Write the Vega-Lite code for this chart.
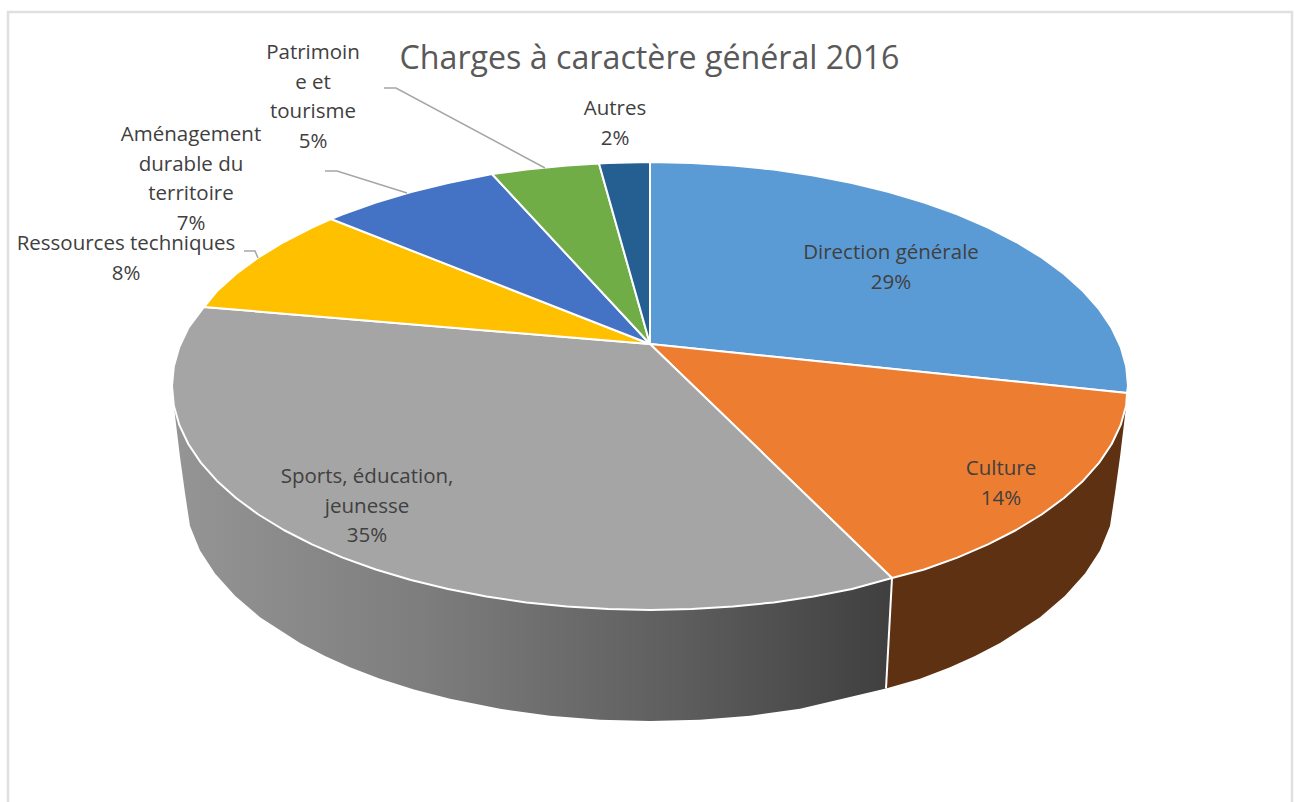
{"$schema":"https://vega.github.io/schema/vega-lite/v6.json","width":1297,"height":802,"padding":0,"autosize":{"type":"none"},"background":"white","view":{"stroke":null},
"title":{"text":"Charges à caractère général 2016","font":"Open Sans","fontSize":32.2,"fontWeight":"normal","color":"#595959","anchor":"middle","baseline":"middle","offset":-91,"dx":1},
"datasets":{
"frame":[{"n":1,"x":8,"y":802},{"n":2,"x":8,"y":12},{"n":3,"x":1292,"y":12},{"n":4,"x":1292,"y":802}],
"wallGray":[{"n":1,"x":173.8,"y":405.5},{"n":2,"x":179.3,"y":424.9},{"n":3,"x":188.3,"y":444},{"n":4,"x":200.8,"y":462.6},{"n":5,"x":216.8,"y":480.7},{"n":6,"x":236,"y":498},{"n":7,"x":258.4,"y":514.5},{"n":8,"x":283.8,"y":530},{"n":9,"x":312,"y":544.4},{"n":10,"x":342.7,"y":557.6},{"n":11,"x":375.8,"y":569.5},{"n":12,"x":411,"y":580},{"n":13,"x":448,"y":589},{"n":14,"x":486.5,"y":596.5},{"n":15,"x":526.3,"y":602.4},{"n":16,"x":567,"y":606.6},{"n":17,"x":608.3,"y":609.1},{"n":18,"x":650,"y":610},{"n":19,"x":691.7,"y":609.1},{"n":20,"x":733,"y":606.6},{"n":21,"x":773.7,"y":602.4},{"n":22,"x":813.5,"y":596.5},{"n":23,"x":852,"y":589},{"n":24,"x":892,"y":578},{"n":25,"x":886,"y":688.5},{"n":26,"x":800,"y":708.8},{"n":27,"x":750,"y":715.7},{"n":28,"x":700,"y":719.7},{"n":29,"x":650,"y":721},{"n":30,"x":600,"y":719.7},{"n":31,"x":550,"y":715.7},{"n":32,"x":500,"y":708.8},{"n":33,"x":450,"y":698.8},{"n":34,"x":414,"y":689.4},{"n":35,"x":380,"y":678.7},{"n":36,"x":350,"y":667.2},{"n":37,"x":325,"y":656},{"n":38,"x":300,"y":643},{"n":39,"x":260,"y":617.2},{"n":40,"x":235,"y":595.8},{"n":41,"x":215,"y":573.6},{"n":42,"x":200,"y":550.5},{"n":43,"x":190,"y":526},{"n":44,"x":185,"y":493},{"n":45,"x":180,"y":457},{"n":46,"x":173.8,"y":405.5}],
"wallBrown":[{"n":1,"x":1126.2,"y":405.5},{"n":2,"x":1120.7,"y":424.9},{"n":3,"x":1111.7,"y":444},{"n":4,"x":1099.2,"y":462.6},{"n":5,"x":1083.2,"y":480.7},{"n":6,"x":1064,"y":498},{"n":7,"x":1041.6,"y":514.5},{"n":8,"x":1016.2,"y":530},{"n":9,"x":988,"y":544.4},{"n":10,"x":957.3,"y":557.6},{"n":11,"x":924.2,"y":569.5},{"n":12,"x":892,"y":578},{"n":13,"x":886,"y":688.5},{"n":14,"x":920,"y":678.7},{"n":15,"x":950,"y":667.2},{"n":16,"x":975,"y":656},{"n":17,"x":1000,"y":643},{"n":18,"x":1040,"y":617.2},{"n":19,"x":1065,"y":595.8},{"n":20,"x":1085,"y":573.6},{"n":21,"x":1100,"y":550.5},{"n":22,"x":1110,"y":526},{"n":23,"x":1115,"y":493},{"n":24,"x":1120,"y":457},{"n":25,"x":1126.2,"y":405.5}],
"edge":[{"n":1,"x":892,"y":578},{"n":2,"x":886,"y":688.5}],
"slices":[
{"part":"Direction générale","n":1,"x":650,"y":344},{"part":"Direction générale","n":2,"x":650,"y":162},{"part":"Direction générale","n":3,"x":691.7,"y":162.9},{"part":"Direction générale","n":4,"x":733,"y":165.4},{"part":"Direction générale","n":5,"x":773.7,"y":169.6},{"part":"Direction générale","n":6,"x":813.5,"y":175.5},{"part":"Direction générale","n":7,"x":852,"y":183},{"part":"Direction générale","n":8,"x":889,"y":192},{"part":"Direction générale","n":9,"x":924.2,"y":202.5},{"part":"Direction générale","n":10,"x":957.3,"y":214.4},{"part":"Direction générale","n":11,"x":988,"y":227.6},{"part":"Direction générale","n":12,"x":1016.2,"y":242},{"part":"Direction générale","n":13,"x":1041.6,"y":257.5},{"part":"Direction générale","n":14,"x":1064,"y":274},{"part":"Direction générale","n":15,"x":1083.2,"y":291.3},{"part":"Direction générale","n":16,"x":1099.2,"y":309.4},{"part":"Direction générale","n":17,"x":1111.7,"y":328},{"part":"Direction générale","n":18,"x":1120.7,"y":347.1},{"part":"Direction générale","n":19,"x":1126.2,"y":366.5},{"part":"Direction générale","n":20,"x":1128,"y":386},{"part":"Direction générale","n":21,"x":1127,"y":393},{"part":"Direction générale","n":22,"x":650,"y":344},
{"part":"Culture","n":1,"x":650,"y":344},{"part":"Culture","n":2,"x":1127,"y":393},{"part":"Culture","n":3,"x":1126.2,"y":405.5},{"part":"Culture","n":4,"x":1120.7,"y":424.9},{"part":"Culture","n":5,"x":1111.7,"y":444},{"part":"Culture","n":6,"x":1099.2,"y":462.6},{"part":"Culture","n":7,"x":1083.2,"y":480.7},{"part":"Culture","n":8,"x":1064,"y":498},{"part":"Culture","n":9,"x":1041.6,"y":514.5},{"part":"Culture","n":10,"x":1016.2,"y":530},{"part":"Culture","n":11,"x":988,"y":544.4},{"part":"Culture","n":12,"x":957.3,"y":557.6},{"part":"Culture","n":13,"x":924.2,"y":569.5},{"part":"Culture","n":14,"x":892,"y":578},{"part":"Culture","n":15,"x":650,"y":344},
{"part":"Sports, éducation, jeunesse","n":1,"x":650,"y":344},{"part":"Sports, éducation, jeunesse","n":2,"x":892,"y":578},{"part":"Sports, éducation, jeunesse","n":3,"x":852,"y":589},{"part":"Sports, éducation, jeunesse","n":4,"x":813.5,"y":596.5},{"part":"Sports, éducation, jeunesse","n":5,"x":773.7,"y":602.4},{"part":"Sports, éducation, jeunesse","n":6,"x":733,"y":606.6},{"part":"Sports, éducation, jeunesse","n":7,"x":691.7,"y":609.1},{"part":"Sports, éducation, jeunesse","n":8,"x":650,"y":610},{"part":"Sports, éducation, jeunesse","n":9,"x":608.3,"y":609.1},{"part":"Sports, éducation, jeunesse","n":10,"x":567,"y":606.6},{"part":"Sports, éducation, jeunesse","n":11,"x":526.3,"y":602.4},{"part":"Sports, éducation, jeunesse","n":12,"x":486.5,"y":596.5},{"part":"Sports, éducation, jeunesse","n":13,"x":448,"y":589},{"part":"Sports, éducation, jeunesse","n":14,"x":411,"y":580},{"part":"Sports, éducation, jeunesse","n":15,"x":375.8,"y":569.5},{"part":"Sports, éducation, jeunesse","n":16,"x":342.7,"y":557.6},{"part":"Sports, éducation, jeunesse","n":17,"x":312,"y":544.4},{"part":"Sports, éducation, jeunesse","n":18,"x":283.8,"y":530},{"part":"Sports, éducation, jeunesse","n":19,"x":258.4,"y":514.5},{"part":"Sports, éducation, jeunesse","n":20,"x":236,"y":498},{"part":"Sports, éducation, jeunesse","n":21,"x":216.8,"y":480.7},{"part":"Sports, éducation, jeunesse","n":22,"x":200.8,"y":462.6},{"part":"Sports, éducation, jeunesse","n":23,"x":188.3,"y":444},{"part":"Sports, éducation, jeunesse","n":24,"x":179.3,"y":424.9},{"part":"Sports, éducation, jeunesse","n":25,"x":173.8,"y":405.5},{"part":"Sports, éducation, jeunesse","n":26,"x":172,"y":386},{"part":"Sports, éducation, jeunesse","n":27,"x":173.8,"y":366.5},{"part":"Sports, éducation, jeunesse","n":28,"x":179.3,"y":347.1},{"part":"Sports, éducation, jeunesse","n":29,"x":188.3,"y":328},{"part":"Sports, éducation, jeunesse","n":30,"x":204,"y":307},{"part":"Sports, éducation, jeunesse","n":31,"x":650,"y":344},
{"part":"Ressources techniques","n":1,"x":650,"y":344},{"part":"Ressources techniques","n":2,"x":204,"y":307},{"part":"Ressources techniques","n":3,"x":216.8,"y":291.3},{"part":"Ressources techniques","n":4,"x":236,"y":274},{"part":"Ressources techniques","n":5,"x":258.4,"y":257.5},{"part":"Ressources techniques","n":6,"x":283.8,"y":242},{"part":"Ressources techniques","n":7,"x":312,"y":227.6},{"part":"Ressources techniques","n":8,"x":331,"y":219},{"part":"Ressources techniques","n":9,"x":650,"y":344},
{"part":"Aménagement durable du territoire","n":1,"x":650,"y":344},{"part":"Aménagement durable du territoire","n":2,"x":331,"y":219},{"part":"Aménagement durable du territoire","n":3,"x":342.7,"y":214.4},{"part":"Aménagement durable du territoire","n":4,"x":375.8,"y":202.5},{"part":"Aménagement durable du territoire","n":5,"x":411,"y":192},{"part":"Aménagement durable du territoire","n":6,"x":448,"y":183},{"part":"Aménagement durable du territoire","n":7,"x":492,"y":174},{"part":"Aménagement durable du territoire","n":8,"x":650,"y":344},
{"part":"Patrimoine et tourisme","n":1,"x":650,"y":344},{"part":"Patrimoine et tourisme","n":2,"x":492,"y":174},{"part":"Patrimoine et tourisme","n":3,"x":526.3,"y":169.6},{"part":"Patrimoine et tourisme","n":4,"x":567,"y":165.4},{"part":"Patrimoine et tourisme","n":5,"x":599,"y":163.5},{"part":"Patrimoine et tourisme","n":6,"x":650,"y":344},
{"part":"Autres","n":1,"x":650,"y":344},{"part":"Autres","n":2,"x":599,"y":163.5},{"part":"Autres","n":3,"x":608.3,"y":162.9},{"part":"Autres","n":4,"x":650,"y":162},{"part":"Autres","n":5,"x":650,"y":344}],
"leaders":[
{"part":"Patrimoine et tourisme","n":1,"x":384,"y":88},{"part":"Patrimoine et tourisme","n":2,"x":396,"y":88},{"part":"Patrimoine et tourisme","n":3,"x":545,"y":168},
{"part":"Aménagement durable du territoire","n":1,"x":325,"y":171},{"part":"Aménagement durable du territoire","n":2,"x":337,"y":171},{"part":"Aménagement durable du territoire","n":3,"x":407,"y":193},
{"part":"Ressources techniques","n":1,"x":244,"y":251},{"part":"Ressources techniques","n":2,"x":255,"y":251},{"part":"Ressources techniques","n":3,"x":258,"y":258}],
"labels":[
{"label":"Direction générale\n29%","x":891,"y":253},
{"label":"Culture\n14%","x":1001,"y":469},
{"label":"Sports, éducation,\njeunesse\n35%","x":367,"y":477},
{"label":"Ressources techniques\n8%","x":126,"y":244},
{"label":"Aménagement\ndurable du\nterritoire\n7%","x":191,"y":135},
{"label":"Patrimoin\ne et\ntourisme\n5%","x":313,"y":53},
{"label":"Autres\n2%","x":615,"y":109}]
},
"encoding":{
"x":{"field":"x","type":"quantitative","scale":{"domain":[0,1297]},"axis":null},
"y":{"field":"y","type":"quantitative","scale":{"domain":[802,0]},"axis":null}
},
"layer":[
{"data":{"name":"frame"},"mark":{"type":"line","stroke":"#e0e0e0","strokeWidth":2.5},"encoding":{"order":{"field":"n","type":"quantitative"}}},
{"data":{"name":"wallGray"},"mark":{"type":"line","filled":true,"strokeWidth":0,"fill":{"gradient":"linear","x1":0,"y1":0,"x2":1,"y2":0,"stops":[{"offset":0,"color":"#959595"},{"offset":0.35,"color":"#7d7d7d"},{"offset":0.7,"color":"#5e5e5e"},{"offset":1,"color":"#3f3f3f"}]}},"encoding":{"order":{"field":"n","type":"quantitative"}}},
{"data":{"name":"wallBrown"},"mark":{"type":"line","filled":true,"strokeWidth":0,"fill":"#5f3113"},"encoding":{"order":{"field":"n","type":"quantitative"}}},
{"data":{"name":"edge"},"mark":{"type":"line","stroke":"white","strokeWidth":2},"encoding":{"order":{"field":"n","type":"quantitative"}}},
{"data":{"name":"slices"},"mark":{"type":"line","filled":true,"stroke":"white","strokeWidth":2,"strokeJoin":"round"},"encoding":{"order":{"field":"n","type":"quantitative"},"detail":{"field":"part"},"fill":{"field":"part","type":"nominal","legend":null,"scale":{"domain":["Direction générale","Culture","Sports, éducation, jeunesse","Ressources techniques","Aménagement durable du territoire","Patrimoine et tourisme","Autres"],"range":["#5b9bd5","#ed7d31","#a5a5a5","#ffc000","#4472c4","#70ad47","#255e91"]}}}},
{"data":{"name":"leaders"},"mark":{"type":"line","stroke":"#a6a6a6","strokeWidth":1.5},"encoding":{"order":{"field":"n","type":"quantitative"},"detail":{"field":"part"}}},
{"data":{"name":"labels"},"mark":{"type":"text","font":"Open Sans","fontSize":20.5,"color":"#404040","align":"center","baseline":"middle","lineBreak":"\n","lineHeight":29.5},"encoding":{"text":{"field":"label"}}}
]}
